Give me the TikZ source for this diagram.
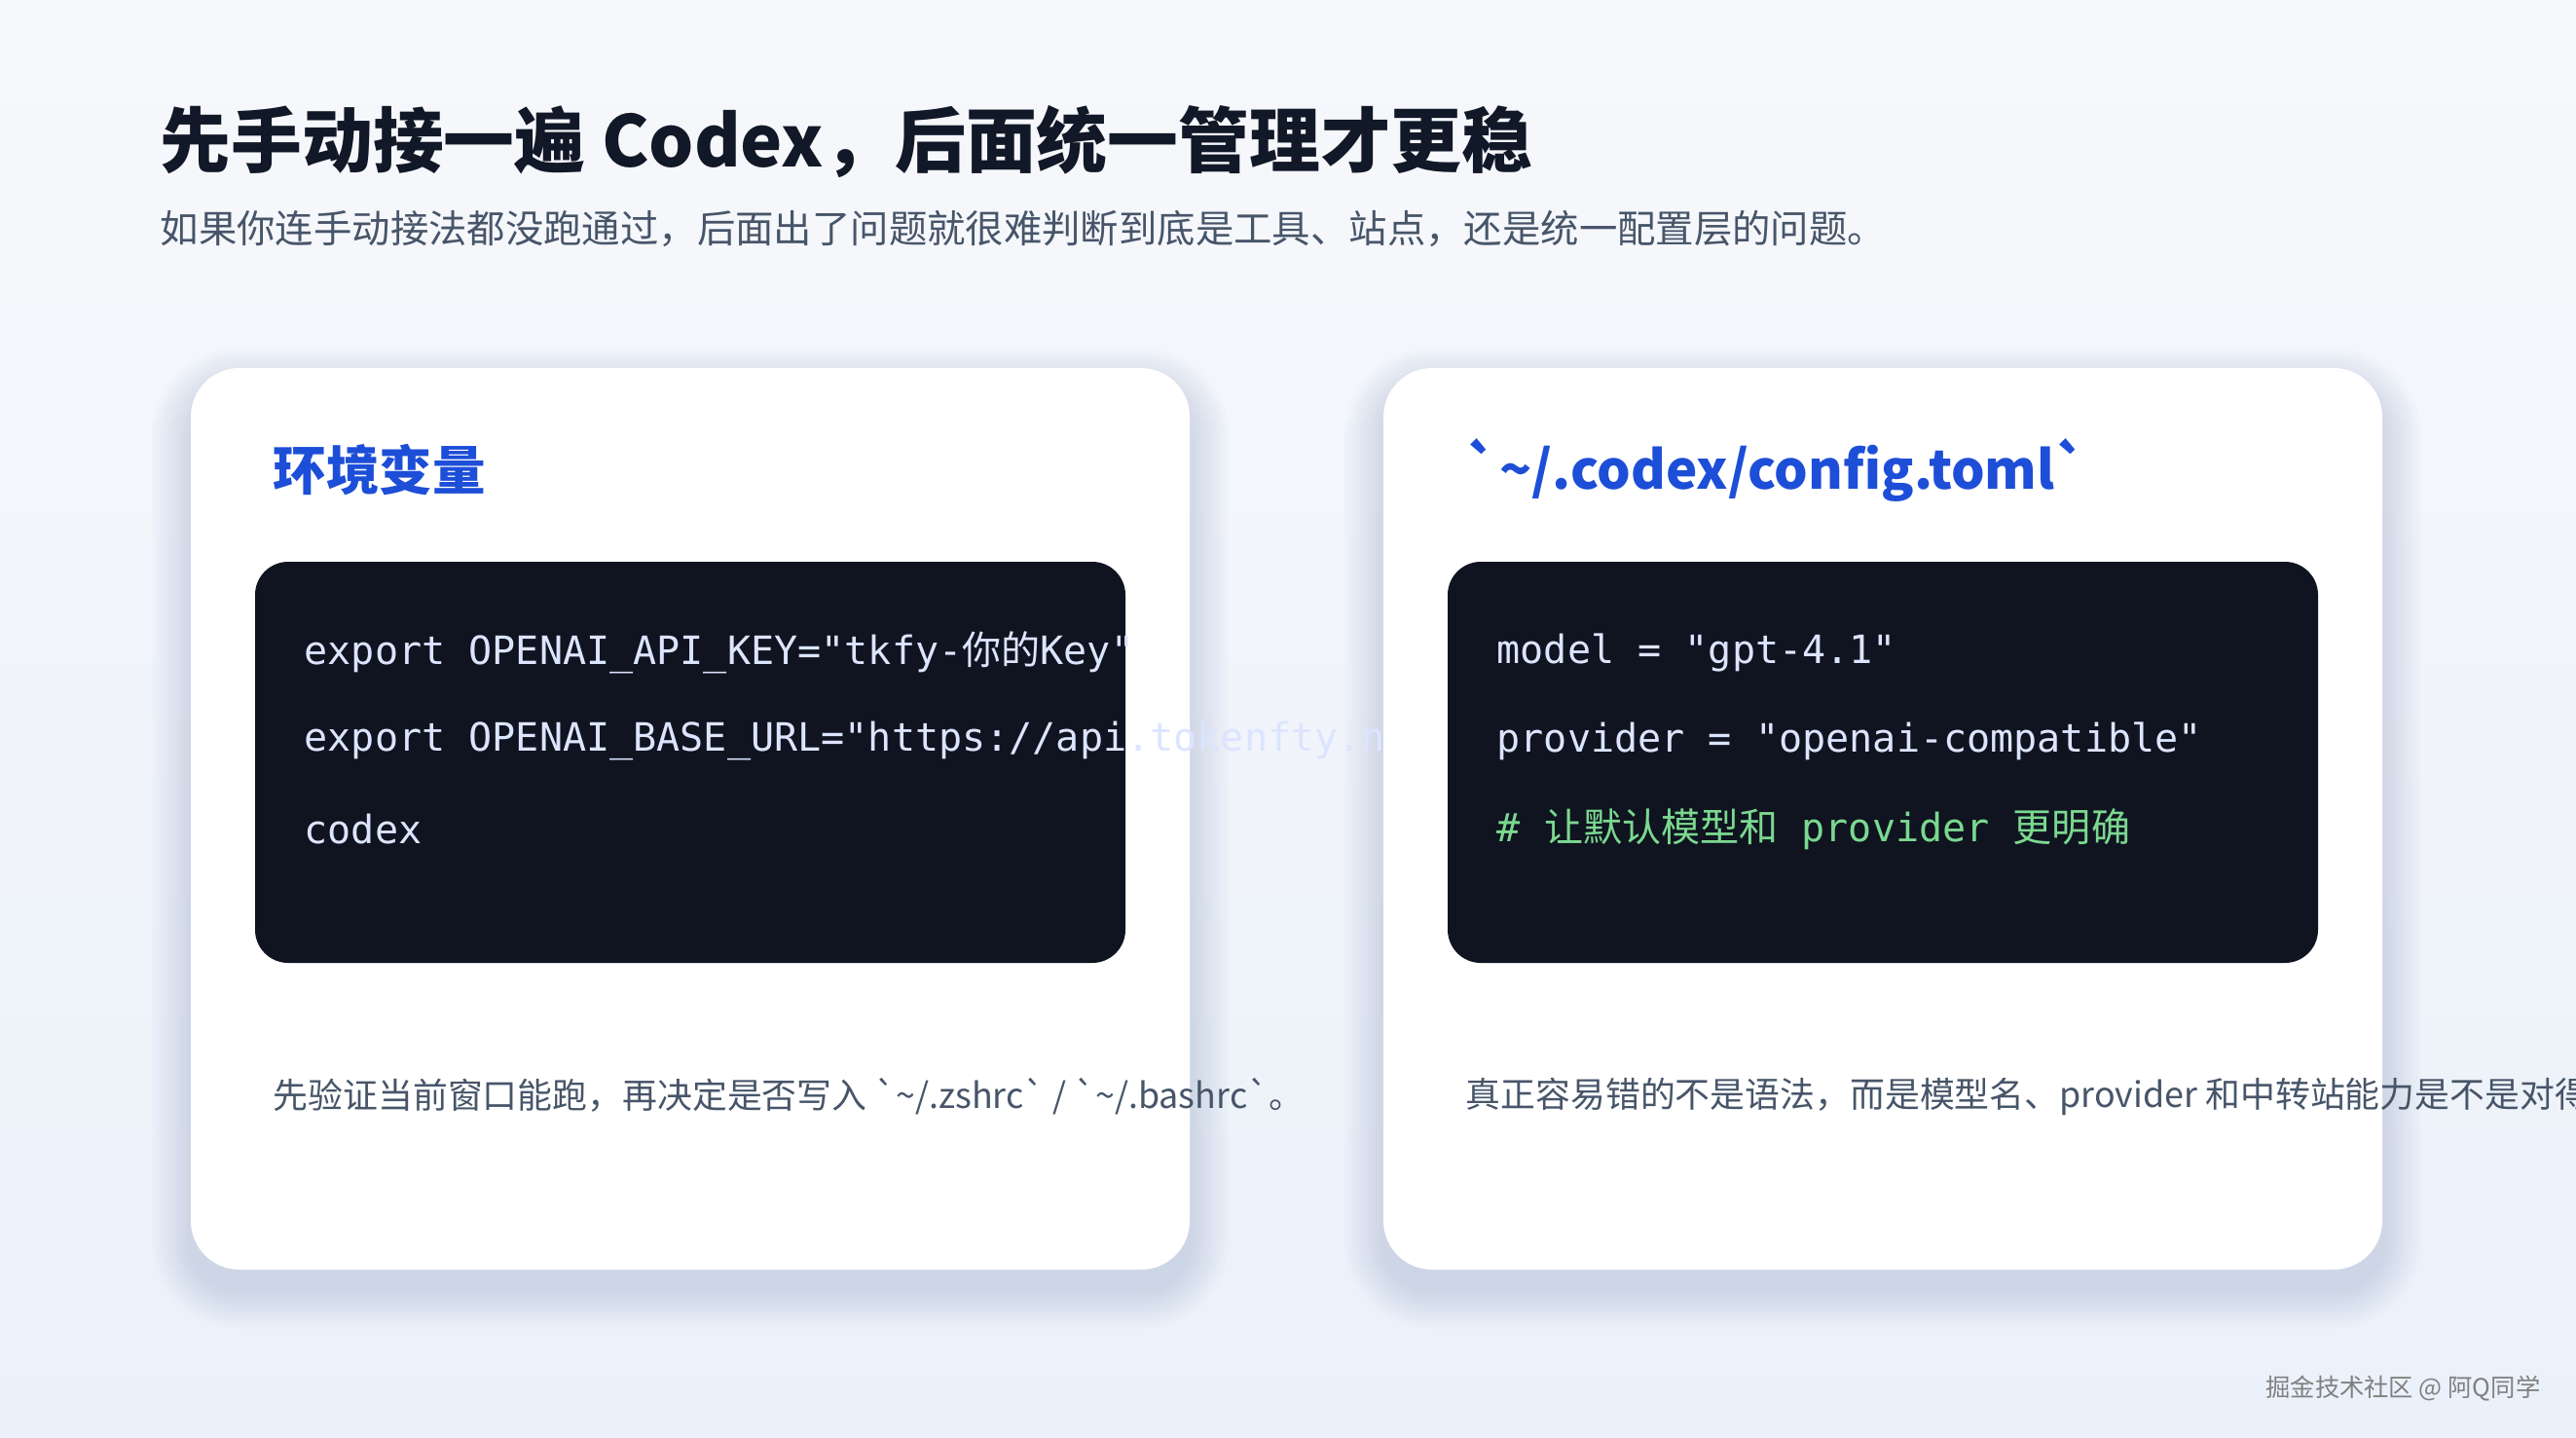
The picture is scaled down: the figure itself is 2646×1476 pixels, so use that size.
\documentclass[tikz,border=0pt]{standalone}
\usepackage{fontspec}
\setmainfont{Noto Sans CJK SC}
\setmonofont{DejaVu Sans Mono}
\newfontfamily\cjk{Noto Sans CJK SC}
\usetikzlibrary{positioning}
\definecolor{ink}{HTML}{111827}
\definecolor{muted}{HTML}{475569}
\definecolor{accent}{HTML}{1D4ED8}
\definecolor{codebg}{HTML}{0F1420}
\definecolor{codefg}{HTML}{DCE5FF}
\definecolor{codecm}{HTML}{7BD88F}
\definecolor{bgtop}{HTML}{F7F8FB}
\definecolor{bgbot}{HTML}{EBF1FA}
\definecolor{shadowc}{HTML}{94A3C8}
\newcommand{\bq}{\textasciigrave}
\newcommand{\tl}{\textasciitilde}
\tikzset{
  card/.style={fill=white, rounded corners=50*0.01cm},
  cardshadow/.style={fill=shadowc, fill opacity=0.035},
  codebox/.style={fill=codebg, rounded corners=34*0.01cm},
  heading/.style={anchor=west, inner sep=0pt, text=accent, font=\fontsize{15.5}{18}\selectfont\bfseries},
  codeline/.style={anchor=west, inner sep=0pt, text=codefg, font=\fontsize{11.4}{14}\ttfamily},
  caption/.style={anchor=west, inner sep=0pt, text=muted, font=\fontsize{10.2}{12}\selectfont}
}
\begin{document}
\begin{tikzpicture}[x=0.01cm, y=-0.01cm]
\useasboundingbox (0,0) rectangle (2646,1476);
\clip (0,0) rectangle (2646,1476);
\shade[top color=bgtop, bottom color=bgbot] (0,0) rectangle (2646,1476);
% title
\node[anchor=west, inner sep=0pt, text=ink, font=\fontsize{20.7}{24}\selectfont\bfseries] (title) at (164,146) {先手动接一遍 Codex，后面统一管理才更稳};
\node[anchor=west, inner sep=0pt, text=muted, font=\fontsize{11.2}{13}\selectfont] (subtitle) at (164,235) {如果你连手动接法都没跑通过，后面出了问题就很难判断到底是工具、站点，还是统一配置层的问题。};
% card shadows
\foreach \cx in {196,1421}
  \foreach \s in {4,8,...,40}
    \path[cardshadow, rounded corners=(50+\s)*0.01cm] (\cx-\s,378-\s+20) rectangle (\cx+1026+\s,1304+\s+20);
% left card
\path[card] (196,378) rectangle (1222,1304);
\node[heading] (envhead) at (280,483) {环境变量};
\path[codebox] (262,577) rectangle (1156,989);
\node[codeline] (env1) at (312,670) {export OPENAI\_API\_KEY="tkfy-{\cjk 你的}Key"};
\node[codeline] (env2) at (312,761) {export OPENAI\_BASE\_URL="https://api.tokenfty.net"};
\node[codeline] (env3) at (312,852) {codex};
\node[caption] (envnote) at (280,1126) {先验证当前窗口能跑，再决定是否写入 \bq\tl/.zshrc\bq{} / \bq\tl/.bashrc\bq。};
% right card
\path[card] (1421,378) rectangle (2447,1304);
\node[heading] (tomlhead) at (1505,483) {\bq\tl/.codex/config.toml\bq};
\path[codebox] (1487,577) rectangle (2381,989);
\node[codeline] (toml1) at (1537,670) {model = "gpt-4.1"};
\node[codeline] (toml2) at (1537,761) {provider = "openai-compatible"};
\node[codeline, text=codecm] (toml3) at (1537,852) {\# {\cjk 让默认模型和} provider {\cjk 更明确}};
\node[caption] (tomlnote) at (1505,1126) {真正容易错的不是语法，而是模型名、provider 和中转站能力是不是对得上。};
% watermark
\node[anchor=east, inner sep=0pt, text=gray, font=\fontsize{7.2}{9}\selectfont] (mark) at (2610,1426) {掘金技术社区 @ 阿Q同学};
\end{tikzpicture}
\end{document}
